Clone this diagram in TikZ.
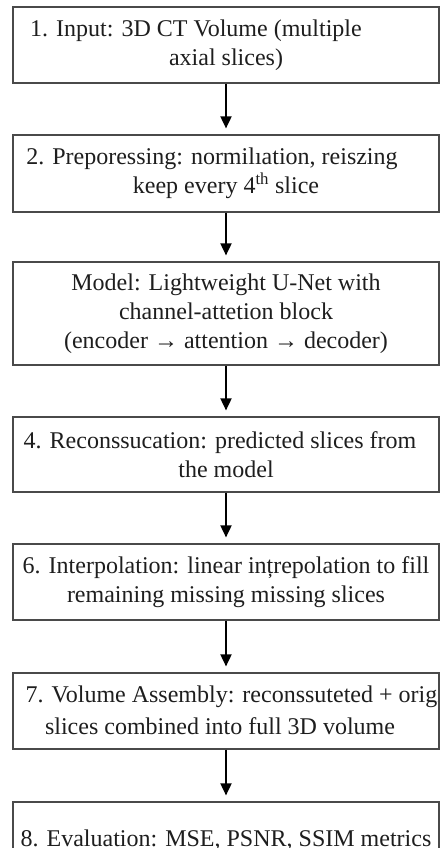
\documentclass[tikz,border=0pt]{standalone}
\usepackage{fontspec}
\setmainfont{Liberation Serif}
\usetikzlibrary{arrows.meta}
\definecolor{boxline}{HTML}{4A4A4A}
\definecolor{txt}{HTML}{1E1E1E}
\tikzset{
  stepbox/.style={draw=boxline, line width=1.2pt, fill=white, minimum width=426pt,
    inner sep=0pt, align=center, text=txt,
    font=\fontsize{24}{29}\selectfont},
  boxtext/.style={inner sep=0pt, text=txt, font=\fontsize{24}{29}\selectfont},
  flow/.style={line width=1.8pt, -{Triangle[length=12pt,width=11pt]}, shorten >=6pt}
}
\begin{document}
\begin{tikzpicture}[x=1pt,y=-1pt]
\useasboundingbox (0,0) rectangle (445,848);
\fill[white] (0,0) rectangle (445,848);
\node[stepbox, minimum height=76pt] (b1) at (226,45)
  {1. Input: 3D CT Volume (multiple\hspace*{60pt}\\axial slices)};
\node[stepbox, minimum height=77pt] (b2) at (226,173.5)
  {2. Preporessing: normilıation, reiszing\hspace*{28pt}\\keep every 4\textsuperscript{th} slice};
\node[stepbox, minimum height=103pt] (b3) at (226,313.5)
  {Model: Lightweight U-Net with\\channel-attetion block\\(encoder → attention → decoder)};
\node[stepbox, minimum height=75pt] (b4) at (226,454.5)
  {4. Reconssucation: predicted slices from\hspace*{12pt}\\the model};
\node[stepbox, minimum height=76pt] (b5) at (226,582)
  {6. Interpolation: linear ințrepolation to fill\\remaining missing missing slices};
\node[stepbox, minimum height=76pt, path picture={
    \node[boxtext, anchor=west]
      at ([xshift=12pt,yshift=14pt]path picture bounding box.west) {7. Volume Assembly: reconssuteted + original};
    \node[boxtext, anchor=center]
      at ([xshift=-6pt,yshift=-15pt]path picture bounding box.center) {slices combined into full 3D volume};
  }] (b6) at (226,711) {};
\node[stepbox, minimum height=76pt] (b7) at (226,840)
  {8. Evaluation: MSE, PSNR, SSIM metrics};
\draw[flow] (b1) -- (b2);
\draw[flow] (b2) -- (b3);
\draw[flow] (b3) -- (b4);
\draw[flow] (b4) -- (b5);
\draw[flow] (b5) -- (b6);
\draw[flow] (b6) -- (b7);
\end{tikzpicture}
\end{document}
